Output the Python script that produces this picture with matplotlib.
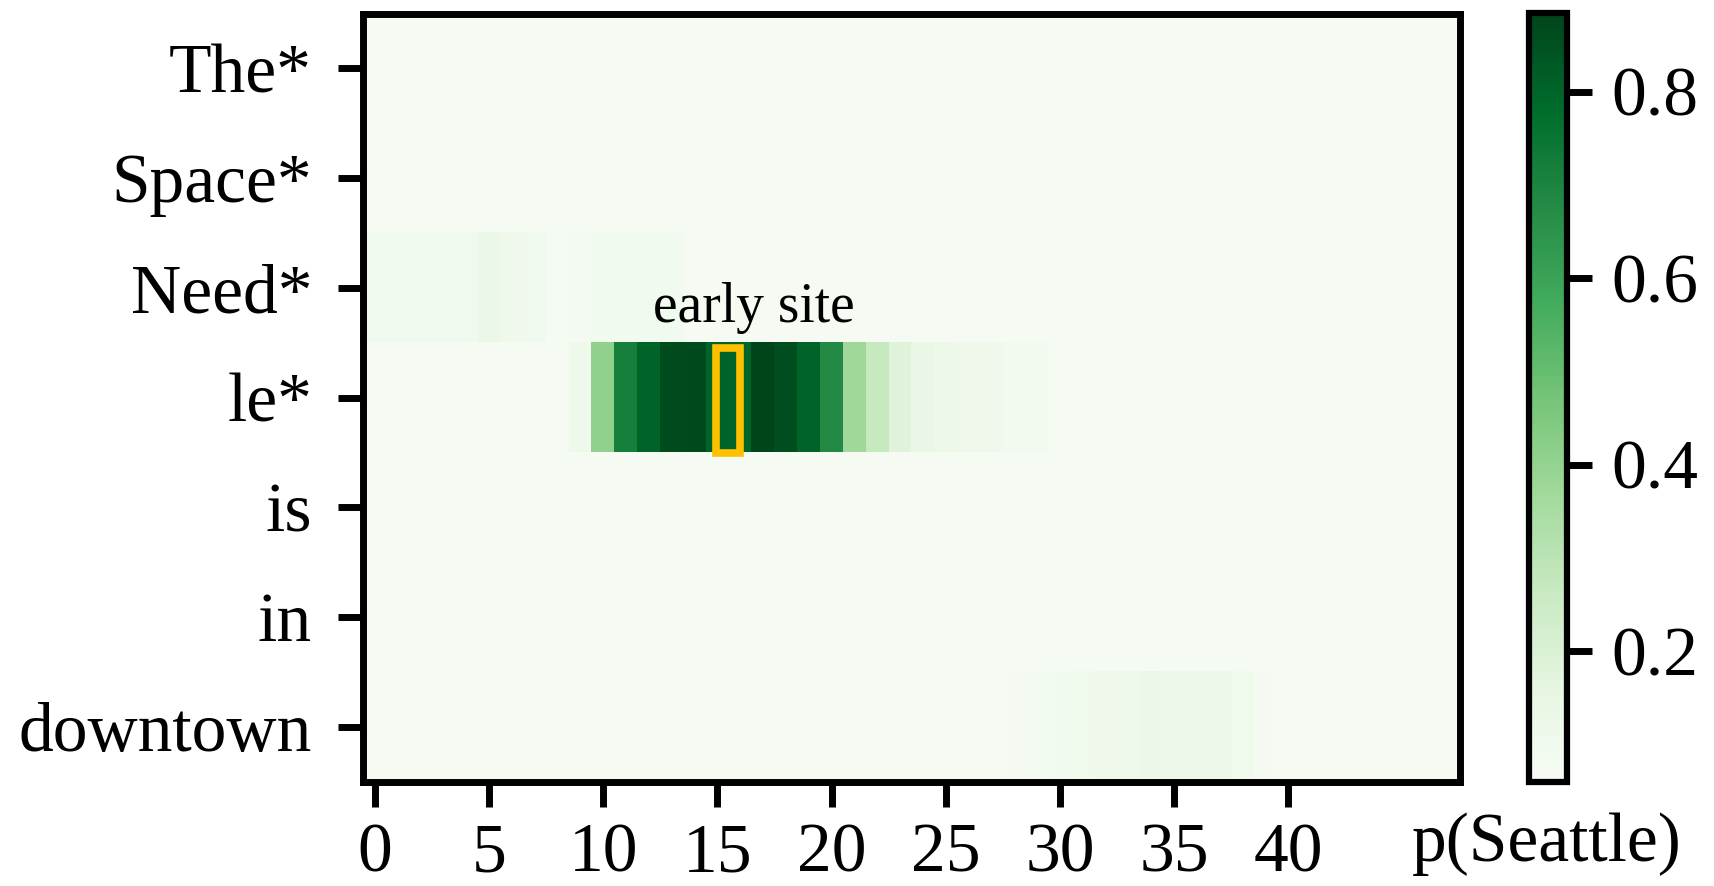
import numpy as np
import matplotlib
matplotlib.use("Agg")
import matplotlib.pyplot as plt
from matplotlib.patches import Rectangle

plt.rcParams['font.family'] = ['Liberation Serif', 'DejaVu Serif']

# ---- data ----
tokens = ["The*", "Space*", "Need*", "le*", "is", "in", "downtown"]
n_cols = 48
background = 0.068

row_the = [background] * n_cols
row_space = [background] * n_cols
row_need = [0.100, 0.100, 0.100, 0.096, 0.096, 0.127, 0.106, 0.100,
            0.074, 0.077, 0.092, 0.092, 0.092, 0.092] + [background] * 34
row_le = [background] * 9 + [0.110, 0.408, 0.716, 0.804, 0.863, 0.869,
                             0.804, 0.799, 0.885, 0.856, 0.804, 0.680,
                             0.372, 0.266, 0.180, 0.134, 0.117, 0.106,
                             0.106, 0.089, 0.087] + [background] * 18
row_is = [background] * n_cols
row_in = [background] * n_cols
row_downtown = [background] * 28 + [0.079, 0.081, 0.091, 0.103, 0.108, 0.110,
                                    0.122, 0.115, 0.115, 0.115, 0.103, 0.077] + [background] * 8

x_ticks = [0, 5, 10, 15, 20, 25, 30, 35, 40]
cbar_ticks = [0.2, 0.4, 0.6, 0.8]
vmin, vmax = 0.06, 0.885

highlight_col = 15
highlight_row = 3
annotation = "early site"
cbar_label = "p(Seattle)"

data = np.array([row_the, row_space, row_need, row_le, row_is, row_in, row_downtown])

# ---- figure ----
W, H = 1714, 886
fig = plt.figure(figsize=(W / 100, H / 100), dpi=100)

ax = fig.add_axes([363.4 / W, (H - 781.5) / H, (1459.7 - 363.4) / W, (781.5 - 13.5) / H])
im = ax.imshow(data, cmap="Greens", aspect="auto", vmin=vmin, vmax=vmax,
               interpolation="nearest")

ax.set_xticks(x_ticks)
ax.set_xticklabels([str(t) for t in x_ticks])
ax.set_yticks(range(len(tokens)))
ax.set_yticklabels(tokens)
ax.tick_params(axis="both", length=18, width=5, labelsize=50)
ax.tick_params(axis="x", pad=12)
ax.tick_params(axis="y", pad=19)
for sp in ax.spines.values():
    sp.set_linewidth(5)

# highlight box
rect = Rectangle((highlight_col - 0.05, highlight_row - 0.45), 1.02, 0.96,
                 fill=False, edgecolor="#FFC000", linewidth=5.5, zorder=5)
ax.add_patch(rect)
ax.text(highlight_col + 1.6, highlight_row - 0.69, annotation, fontsize=40,
        ha="center", va="baseline", color="black")

# colorbar
cax = fig.add_axes([1529 / W, (H - 781.5) / H, (1567 - 1529) / W, (781.5 - 12.5) / H])
cb = fig.colorbar(im, cax=cax)
cb.set_ticks(cbar_ticks)
cb.set_ticklabels([f"{t:.1f}" for t in cbar_ticks])
cb.outline.set_linewidth(4.5)
cb.ax.tick_params(length=18, width=5, labelsize=50, pad=14)

fig.text(1547 / W, 25 / H, cbar_label, fontsize=50, ha="center", va="baseline")

fig.savefig("out.png", dpi=100)
